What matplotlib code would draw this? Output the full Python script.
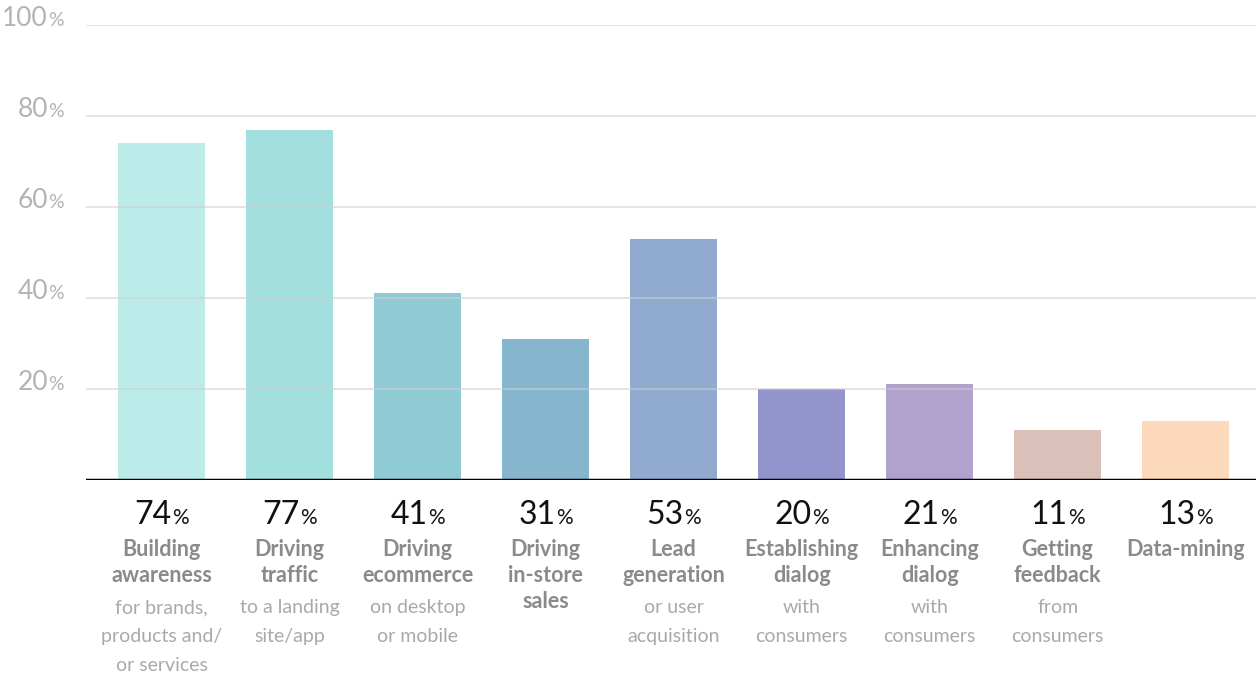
import matplotlib
matplotlib.use('Agg')
import matplotlib.pyplot as plt
from matplotlib.transforms import blended_transform_factory

plt.rcParams['font.family'] = ['Lato', 'DejaVu Sans']

# chart data
values = [74, 77, 41, 31, 53, 20, 21, 11, 13]
titles = ['Building\nawareness', 'Driving\ntraffic', 'Driving\necommerce',
          'Driving\nin-store\nsales', 'Lead\ngeneration', 'Establishing\ndialog',
          'Enhancing\ndialog', 'Getting\nfeedback', 'Data-mining']
details = ['for brands,\nproducts and/\nor services', 'to a landing\nsite/app',
           'on desktop\nor mobile', '', 'or user\nacquisition', 'with\nconsumers',
           'with\nconsumers', 'from\nconsumers', '']
bar_colors = ['#bcecea', '#a3dfde', '#90cad4', '#86b5ce', '#91abd0',
              '#9394cc', '#b0a2cc', '#dbbfb9', '#fdd9bb']
yticks = [20, 40, 60, 80, 100]

W, H = 1256, 675
fig = plt.figure(figsize=(W / 100, H / 100), dpi=100)
ax = fig.add_axes([86 / W, 1 - 480 / H, 1 - 86 / W, (480 - 25) / H])

x = list(range(len(values)))
ax.bar(x, values, width=0.68, color=bar_colors, zorder=1)
ax.set_xlim(-0.59, 8.55)
ax.set_ylim(0, 100)

# light gridlines (drawn over the bars)
for t in yticks:
    ax.axhline(t, color='#cfcfcf', lw=1.3, alpha=0.6, zorder=2)
ax.axhline(0, color='black', lw=2.5, zorder=3)

for s in ax.spines.values():
    s.set_visible(False)
ax.set_xticks([])
ax.set_yticks([])

# y labels: number + small %, sitting on the grid line
ytr = blended_transform_factory(fig.transFigure, ax.transData)
for t in yticks:
    yy = t - 1 / 4.55
    ax.text(48 / W, yy, str(t), transform=ytr, ha='right', va='baseline',
            fontsize=19, color='#b3b3b3')
    ax.text(48 / W, yy, '%', transform=ytr, ha='left', va='baseline',
            fontsize=14, color='#b3b3b3')

# labels under the bars
fig.canvas.draw()
renderer = fig.canvas.get_renderer()
tr = blended_transform_factory(ax.transData, fig.transFigure)
inv = ax.transData.inverted()
y_val = 1 - 524 / H
for i, v in enumerate(values):
    num = ax.text(i, y_val, str(v), transform=tr, ha='left', va='baseline',
                  fontsize=23, color='#111111')
    pct = ax.text(i, y_val, '%', transform=tr, ha='left', va='baseline',
                  fontsize=15, color='#111111')
    wn = num.get_window_extent(renderer).width
    wp = pct.get_window_extent(renderer).width
    x0 = ax.transData.transform((i, 0))[0] - (wn + wp) / 2
    num.set_position((inv.transform((x0, 0))[0], y_val))
    pct.set_position((inv.transform((x0 + wn, 0))[0], y_val))

    ax.text(i, 1 - 539 / H, titles[i], transform=tr, ha='center', va='top',
            fontsize=15.5, fontweight='bold', color='#8a8a8a', linespacing=1.3)
    if details[i]:
        ax.text(i, 1 - 599 / H, details[i], transform=tr, ha='center', va='top',
                fontsize=14, color='#a9a9a9', linespacing=1.85)

fig.savefig('out.png', dpi=100)
